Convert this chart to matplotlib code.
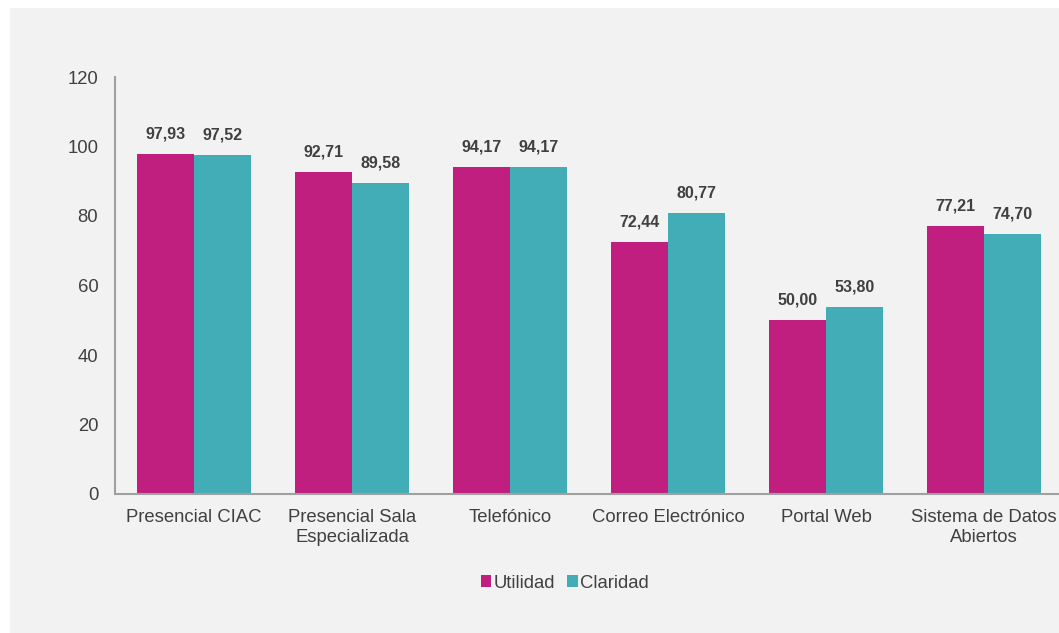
import numpy as np
import matplotlib
matplotlib.use("Agg")
import matplotlib.pyplot as plt
from matplotlib.patches import Rectangle

plt.rcParams['font.family'] = ['Liberation Sans', 'DejaVu Sans']

categories = ["Presencial CIAC", "Presencial Sala\nEspecializada", "Telefónico",
              "Correo Electrónico", "Portal Web", "Sistema de Datos\nAbiertos"]
utilidad = [97.93, 92.71, 94.17, 72.44, 50.00, 77.21]
claridad = [97.52, 89.58, 94.17, 80.77, 53.80, 74.70]
series_names = ["Utilidad", "Claridad"]
yticks = [0, 20, 40, 60, 80, 100, 120]

magenta = "#C01F80"
teal = "#42ADB6"
text_col = "#404040"
panel_col = "#F2F2F2"

W, H = 1059, 633
fig = plt.figure(figsize=(W / 100, H / 100), dpi=100)
fig.patch.set_facecolor("white")
fig.patches.append(Rectangle((10 / W, 0), 1 - 10 / W, 1 - 8 / H,
                             transform=fig.transFigure, facecolor=panel_col,
                             edgecolor="none", zorder=-10))

ax_left, ax_right = 115, 1063
ax_top, ax_bot = 77, 494
ax = fig.add_axes([ax_left / W, (H - ax_bot) / H,
                   (ax_right - ax_left) / W, (ax_bot - ax_top) / H])
ax.set_facecolor("none")
ax.set_zorder(1)

x = np.arange(len(categories))
bw = 0.36
b1 = ax.bar(x - bw / 2, utilidad, bw, color=magenta, label=series_names[0])
b2 = ax.bar(x + bw / 2, claridad, bw, color=teal, label=series_names[1])

def fmt(v):
    return f"{v:.2f}".replace(".", ",")

for bars, vals in ((b1, utilidad), (b2, claridad)):
    for rect, v in zip(bars, vals):
        ax.annotate(fmt(v), (rect.get_x() + rect.get_width() / 2, v),
                    xytext=(0, 9), textcoords="offset points",
                    ha="center", va="bottom", fontsize=11.5,
                    fontweight="bold", color=text_col)

ax.set_xlim(-0.5, len(categories) - 0.5)
ax.set_ylim(0, 120)
ax.set_yticks(yticks)
ax.set_xticks(x)
ax.set_xticklabels(categories, fontsize=13.3, color=text_col, linespacing=1.2)
ax.tick_params(axis="y", length=0, pad=12, labelsize=13.3, labelcolor=text_col)
ax.tick_params(axis="x", length=0, pad=11)

for s in ("top", "right"):
    ax.spines[s].set_visible(False)
for s in ("left", "bottom"):
    ax.spines[s].set_color("#A0A0A0")
    ax.spines[s].set_linewidth(1.5)

leg = fig.legend(handles=[b1, b2], labels=series_names, loc="center",
                 bbox_to_anchor=(565 / W, 1 - 583 / H), ncol=2, frameon=False,
                 fontsize=13.3, handlelength=0.55, handleheight=0.55,
                 handletextpad=0.15, columnspacing=0.65)
for t in leg.get_texts():
    t.set_color(text_col)

fig.savefig("out.png", dpi=100, facecolor=fig.get_facecolor())
